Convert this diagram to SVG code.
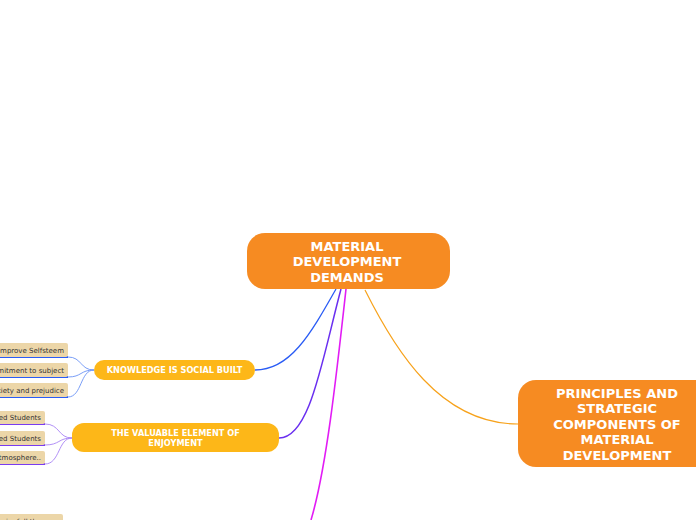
<svg xmlns="http://www.w3.org/2000/svg" width="696" height="520" viewBox="0 0 696 520">
<style>
.main{fill:#f68b22}
.sub{fill:#fdb718}
.leaf{fill:#ecd6a8}
.tm{font-family:"DejaVu Sans",Verdana,sans-serif;font-weight:bold;fill:#fff;text-anchor:middle}
.ts{font-family:"DejaVu Sans",Verdana,sans-serif;font-weight:bold;fill:#fff;text-anchor:middle;font-size:8.2px}
.tl{font-family:"DejaVu Sans",Verdana,sans-serif;fill:#333;text-anchor:end;font-size:7px}
.c{fill:none}
</style>
<rect width="696" height="520" fill="#fff"/>
<g id="connectors" class="c">
<path d="M365,290 C395,350 440,424 518,424" stroke="#f7a21b" stroke-width="1.2"/>
<path d="M336,289 C310,335 290,370 255,370" stroke="#2a5cf5" stroke-width="1.3"/>
<path d="M341,289 C322,360 310,438 279,438" stroke="#6a2ff0" stroke-width="1.5"/>
<path d="M346,289 C336,380 326,470 311,520" stroke="#e21cf5" stroke-width="1.6"/>
<path d="M94,370 C80,370 82,357 68,357" stroke="#6b93f5" stroke-width="0.9"/>
<path d="M94,370 C80,370 82,377 68,377" stroke="#6b93f5" stroke-width="0.9"/>
<path d="M94,370 C80,370 82,397 68,397" stroke="#6b93f5" stroke-width="0.9"/>
<path d="M0,357 H68 M0,377 H68 M0,397 H68" stroke="#2a5cf5" stroke-width="2"/>
<path d="M72,438 C58,438 60,424 45,424" stroke="#a883f5" stroke-width="0.9"/>
<path d="M72,438 C58,438 60,445 45,445" stroke="#a883f5" stroke-width="0.9"/>
<path d="M72,438 C58,438 60,464 45,464" stroke="#a883f5" stroke-width="0.9"/>
<path d="M0,424 H45 M0,445 H45 M0,464 H45" stroke="#7a3cf0" stroke-width="2"/>
</g>
<g id="central">
<rect class="main" x="247" y="233" width="203" height="56" rx="18"/>
<text class="tm" font-size="13" x="347" y="251">MATERIAL</text>
<text class="tm" font-size="13" x="347" y="266">DEVELOPMENT</text>
<text class="tm" font-size="13" x="347" y="282">DEMANDS</text>
</g>
<g id="principles">
<rect class="main" x="518" y="380" width="200" height="87" rx="18"/>
<text class="tm" font-size="13" x="617" y="398">PRINCIPLES AND</text>
<text class="tm" font-size="13" x="617" y="413">STRATEGIC</text>
<text class="tm" font-size="13" x="617" y="429">COMPONENTS OF</text>
<text class="tm" font-size="13" x="617" y="444">MATERIAL</text>
<text class="tm" font-size="13" x="617" y="460">DEVELOPMENT</text>
</g>
<g id="knowledge">
<rect class="sub" x="94" y="360" width="161" height="20" rx="10"/>
<text class="ts" x="174.5" y="373">KNOWLEDGE IS SOCIAL BUILT</text>
</g>
<g id="enjoyment">
<rect class="sub" x="72" y="423" width="207" height="29" rx="12"/>
<text class="ts" x="175.5" y="436">THE VALUABLE ELEMENT OF</text>
<text class="ts" x="175.5" y="446">ENJOYMENT</text>
</g>
<g id="leaf-selfsteem">
<rect class="leaf" x="-10" y="343" width="78" height="14" rx="2"/>
<text class="tl" x="64" y="353">Improve Selfsteem</text>
</g>
<g id="leaf-commitment">
<rect class="leaf" x="-10" y="363" width="78" height="14" rx="2"/>
<text class="tl" x="64" y="373">Commitment to subject</text>
</g>
<g id="leaf-anxiety">
<rect class="leaf" x="-10" y="383" width="78" height="14" rx="2"/>
<text class="tl" x="64" y="393">Anxiety and prejudice</text>
</g>
<g id="leaf-students1">
<rect class="leaf" x="-10" y="411" width="55" height="13" rx="2"/>
<text class="tl" x="41" y="420">Motivated Students</text>
</g>
<g id="leaf-students2">
<rect class="leaf" x="-10" y="431" width="55" height="14" rx="2"/>
<text class="tl" x="41" y="441">Relaxed Students</text>
</g>
<g id="leaf-atmosphere">
<rect class="leaf" x="-10" y="451" width="55" height="13" rx="2"/>
<text class="tl" x="41" y="460">Atmosphere..</text>
</g>
<g id="leaf-meaningfull">
<rect class="leaf" x="-10" y="514" width="73" height="14" rx="2"/>
<text class="tl" x="59" y="524">meaningfull they are</text>
</g>
</svg>
